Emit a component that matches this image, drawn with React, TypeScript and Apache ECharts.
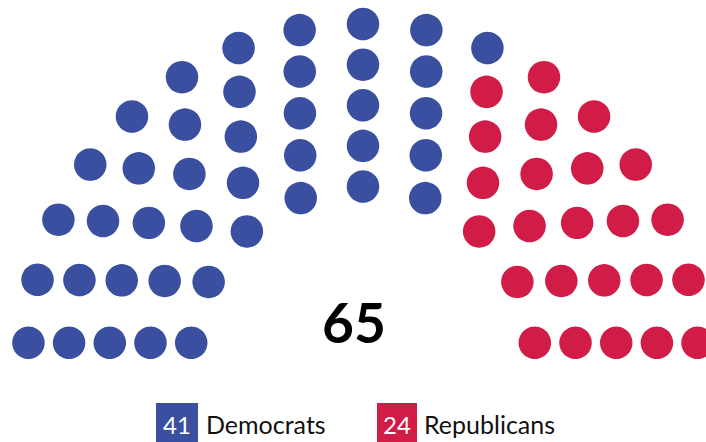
import React, { useEffect, useRef } from "react";
import * as echarts from "echarts";

const parties = ["Democrats", "Republicans"];
const seats = [41, 24];
const colors = ["#3A4FA0", "#D11C48"];
const totalLabel = String(seats.reduce((a, b) => a + b, 0));

// Parliament layout (semicircle rows), in abstract units
function parliamentLayout(total: number) {
  let rows = 1;
  for (let i = 1; i < 50; i++) {
    let spots = 0;
    for (let j = 1; j <= i; j++) {
      spots += Math.floor(Math.PI / (2 * Math.asin(2 / (3 * i + 4 * j - 2))));
    }
    if (spots >= total) {
      rows = i;
      break;
    }
  }
  let totalSpots = 0;
  for (let j = 1; j <= rows; j++) {
    totalSpots += Math.floor(Math.PI / (2 * Math.asin(2 / (3 * rows + 4 * j - 2))));
  }
  const radius = 0.4 / rows;
  const pos: { angle: number; x: number; y: number }[] = [];
  for (let i = 1; i <= rows; i++) {
    let J: number;
    if (i === rows) {
      J = total - pos.length;
    } else {
      J = Math.floor(
        (total / totalSpots) * (Math.PI / (2 * Math.asin(2 / (3 * rows + 4 * i - 2))))
      );
    }
    const R = (3 * rows + 4 * i - 2) / (4 * rows);
    if (J === 1) {
      pos.push({ angle: Math.PI / 2, x: 0, y: R });
    } else {
      for (let k = 0; k < J; k++) {
        const off = Math.sin(radius / R);
        const angle = (k * (Math.PI - 2 * off)) / (J - 1) + off;
        pos.push({ angle, x: R * Math.cos(angle), y: R * Math.sin(angle) });
      }
    }
  }
  pos.sort((a, b) => b.angle - a.angle);
  return { pos, radius };
}

export default function App() {
  const ref = useRef<HTMLDivElement>(null);
  useEffect(() => {
    if (!ref.current) return;
    const chart = echarts.init(ref.current, null, { renderer: "svg" });
    const total = seats.reduce((a, b) => a + b, 0);
    const { pos, radius } = parliamentLayout(total);
    const scale = 203; // px per unit
    const cx = 363;
    const cy = 359;
    let idx = 0;
    const series = parties.map((p, pi) => {
      const data: number[][] = [];
      for (let s = 0; s < seats[pi]; s++) {
        const q = pos[idx++];
        data.push([q.x, q.y]);
      }
      return {
        type: "scatter",
        name: p,
        data,
        symbol: "circle",
        symbolSize: 2 * radius * scale,
        clip: false,
        silent: true,
        itemStyle: { color: colors[pi], opacity: 1 },
      };
    });

    const legendBoxes = [
      { x: 156, w: 42, tx: 206 },
      { x: 377, w: 40, tx: 424 },
    ];
    const graphics: any[] = [
      {
        type: "text",
        x: 354,
        y: 322,
        style: {
          text: totalLabel,
          fontSize: 55,
          fontWeight: "bold",
          fontFamily: "Lato",
          fill: "#000",
          align: "center",
          verticalAlign: "middle",
        },
      },
    ];
    parties.forEach((p, i) => {
      const b = legendBoxes[i];
      graphics.push({
        type: "rect",
        shape: { x: b.x, y: 403, width: b.w, height: 40 },
        style: { fill: colors[i] },
      });
      graphics.push({
        type: "text",
        x: b.x + b.w / 2,
        y: 424,
        style: {
          text: String(seats[i]),
          fontSize: 24,
          fontFamily: "Lato",
          fill: "#fff",
          align: "center",
          verticalAlign: "middle",
        },
      });
      graphics.push({
        type: "text",
        x: b.tx,
        y: 424,
        style: {
          text: p,
          fontSize: 25,
          fontFamily: "Lato",
          fill: "#111",
          align: "left",
          verticalAlign: "middle",
        },
      });
    });

    const xr = 1.65;
    chart.setOption({
      animation: false,
      backgroundColor: "#fff",
      grid: {
        left: cx - xr * scale,
        top: cy - 1.75 * scale,
        width: 2 * xr * scale,
        height: 2.05 * scale,
        containLabel: false,
      },
      xAxis: { type: "value", min: -xr, max: xr, show: false },
      yAxis: { type: "value", min: -0.3, max: 1.75, show: false },
      series,
      graphic: graphics,
    });
    return () => chart.dispose();
  }, []);
  return (
    <div
      ref={ref}
      style={{ position: "absolute", left: 0, top: 0, width: 706, height: 442 }}
    />
  );
}
